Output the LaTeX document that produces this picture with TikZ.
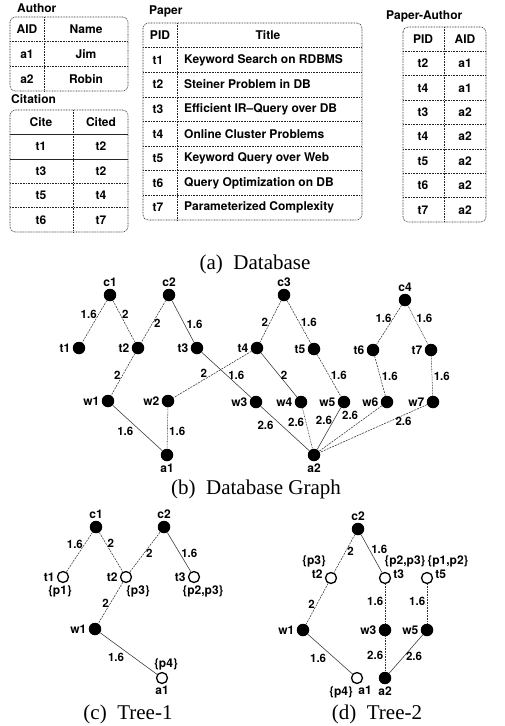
\documentclass[tikz,border=0pt]{standalone}
\usepackage{fontspec}
\setmainfont{Liberation Serif}
\setsansfont{TeX Gyre Heros}
\usetikzlibrary{positioning}

\tikzset{
  vtx/.style={circle, fill=black, inner sep=0pt, minimum size=12.5pt},
  hol/.style={circle, draw=black, line width=1.3pt, fill=white, inner sep=0pt, minimum size=11pt},
  lab/.style={font=\sffamily\bfseries\fontsize{12}{13}\selectfont, inner sep=1pt},
  wt/.style={font=\sffamily\bfseries\fontsize{11.5}{13}\selectfont, inner sep=1.5pt},
  sl/.style={draw=black!80, line width=0.55pt},
  ds/.style={sl, dash pattern=on 2pt off 1pt},
  dt/.style={sl, dash pattern=on 0.8pt off 0.8pt},
  tab/.style={draw=black!85, line width=0.6pt, dash pattern=on 0.8pt off 0.8pt},
  tsol/.style={draw=black!85, line width=0.6pt},
  ttl/.style={font=\sffamily\bfseries\fontsize{12}{14}\selectfont, inner sep=1pt},
  captxt/.style={font=\fontsize{21}{24}\selectfont},
}

\begin{document}
\begin{tikzpicture}[x=1pt, y=-1pt, every label/.style=lab, label distance=1pt]
\useasboundingbox (0,0) rectangle (504,726);

% Author
\node[ttl, anchor=west] (authT) at (16,8) {Author};
\draw[tab, rounded corners=5pt] (10,17) rectangle (128,91);
\draw[tab] (44,17) -- (44,91);
\foreach \y in {41.7,66.3} \draw[tab] (10,\y) -- (128,\y);
\foreach \a/\b/\y in {AID/Name/29, a1/Jim/54, a2/Robin/79}{
    \node[ttl] (au-\y-l) at (27,\y) {\a};
    \node[ttl] (au-\y-r) at (86,\y) {\b};
}

% Citation
\node[ttl, anchor=west] (citT) at (10,99) {Citation};
\draw[tab, rounded corners=5pt] (10,110) rectangle (128,232);
\draw[tab] (73,110) -- (73,232);
\draw[tsol] (10,134.4) -- (128,134.4);
\draw[tsol] (10,158.8) -- (128,158.8);
\foreach \y in {183.2,207.6} \draw[tab] (10,\y) -- (128,\y);
\foreach \a/\b/\y in {Cite/Cited/122, t1/t2/146.6, t3/t2/171, t5/t4/195.4, t6/t7/219.8}{
    \node[ttl] (ci-\y-l) at (41,\y) {\a};
    \node[ttl] (ci-\y-r) at (101,\y) {\b};
}

% Paper
\node[ttl, anchor=west] (papT) at (148,11) {Paper};
\draw[tab, rounded corners=5pt] (143,23) rectangle (362,220);
\draw[tab] (177,23) -- (177,220);
\foreach \k in {1,...,7} \draw[tab] (143,23+24.625*\k) -- (362,23+24.625*\k);
\node[ttl] (pa-h-l) at (160,35.3) {PID};
\node[ttl] (pa-h-r) at (268,35.3) {Title};
\foreach \k/\a/\b in {1/t1/Keyword Search on RDBMS, 2/t2/Steiner Problem in DB,
    3/t3/Efficient IR--Query over DB, 4/t4/Online Cluster Problems,
    5/t5/Keyword Query over Web, 6/t6/Query Optimization on DB,
    7/t7/Parameterized Complexity}{
    \node[ttl] (pa-\k-l) at (158,35.3+24.625*\k) {\a};
    \node[ttl, anchor=west] (pa-\k-r) at (183,35.3+24.625*\k) {\b};
}

% Paper-Author
\node[ttl, anchor=west] (paT) at (385,16) {Paper-Author};
\draw[tab, rounded corners=5pt] (403,27) rectangle (486,222);
\draw[tab] (444,27) -- (444,222);
\foreach \k in {1,...,7} \draw[tab] (403,27+24.375*\k) -- (486,27+24.375*\k);
\foreach \k/\a/\b in {0/PID/AID, 1/t2/a1, 2/t4/a1, 3/t3/a2, 4/t4/a2, 5/t5/a2, 6/t6/a2, 7/t7/a2}{
    \node[ttl] (pp-\k-l) at (423,39.2+24.375*\k) {\a};
    \node[ttl] (pp-\k-r) at (465,39.2+24.375*\k) {\b};
}

\node[captxt] (capA) at (255,264) {(a)\enspace Database};

% Database graph
\foreach \n/\x/\y/\p in {c1/110/295/above, c2/169/295/above, c3/284/295/above, c4/405/300/above,
    t1/79/348/left, t2/138/348/left, t3/197/348/left, t4/257/348/left,
    t5/314/349/left, t6/373/350/left, t7/431/350/left,
    w1/108/401/left, w2/168/401/left, w3/256/402/left, w4/301/402/left,
    w5/344/402/left, w6/387/402/left, w7/433/402/left,
    a1/167/455/below, a2/314/455/below}
    \node[vtx, label=\p:\n] (\n) at (\x,\y) {};

\foreach \a/\b/\w/\q/\s/\e in {c1/t1/1.6/.34/left/ds, c1/t2/2/.33/right/ds,
    c2/t2/2/.55/right/ds, c2/t3/1.6/.58/right/sl, c3/t4/2/.53/left/ds,
    c3/t5/1.6/.5/right/ds, c4/t6/1.6/.33/left/ds, c4/t7/1.6/.33/right/dt,
    t2/w1/2/.53/left/ds, t4/w2/2/.61/above/ds, t3/w3/1.6/.5/right/sl,
    t4/w4/2/.5/right/sl, t5/w5/1.6/.5/right/ds, t6/w6/1.6/.5/right/ds,
    t7/w7/1.6/.5/right/dt, w1/a1/1.6/.45/below left/sl, w2/a1/1.6/.58/right/dt,
    w3/a2/2.6/.3/below left/sl, w4/a2/2.6/.34/left/dt, w5/a2/2.6/.3/left/sl,
    w6/a2/2.6/.35/above left/ds, w7/a2/2.6/.22/below/ds}
    \draw[\e] (\a) -- node[wt, pos=\q, \s] {\w} (\b);

\node[captxt] (capB) at (256,489) {(b)\enspace Database Graph};

% Tree-1
\node[vtx, label=above:c1] (Ac1) at (96,527) {};
\node[vtx, label=above:c2] (Ac2) at (164,527) {};
\node[hol, label=left:t1, label={[xshift=-3pt]below:\{p1\}}] (At1) at (63,577) {};
\node[hol, label=left:t2, label={[xshift=12pt]below:\{p3\}}] (At2) at (126,577) {};
\node[hol, label=left:t3, label={[xshift=9pt]below:\{p2,p3\}}] (At3) at (194,577) {};
\node[vtx, label=left:w1] (Aw1) at (95,629) {};
\node[hol, label=below:a1, label={[xshift=4pt]above:\{p4\}}] (Aa1) at (162,678) {};

\foreach \a/\b/\w/\q/\s/\e in {Ac1/At1/1.6/.3/left/ds, Ac1/At2/2/.28/right/ds,
    Ac2/At2/2/.52/right/ds, Ac2/At3/1.6/.52/right/sl, At2/Aw1/2/.5/left/ds,
    Aw1/Aa1/1.6/.45/below left/sl}
    \draw[\e] (\a) -- node[wt, pos=\q, \s] {\w} (\b);

\node[captxt] (capC) at (128,714) {(c)\enspace Tree-1};

% Tree-2
\node[vtx, label=above:c2] (Bc2) at (358,529) {};
\node[hol, label={[yshift=4pt]left:t2}, label={[xshift=-17pt, yshift=3pt]above:\{p3\}}] (Bt2) at (331,578) {};
\node[hol, label={[yshift=4pt]right:t3}, label={[xshift=20pt, yshift=3pt]above:\{p2,p3\}}] (Bt3) at (385,578) {};
\node[hol, label={[yshift=4pt]right:t5}, label={[xshift=21pt, yshift=3pt]above:\{p1,p2\}}] (Bt5) at (427,578) {};
\node[vtx, label=left:w1] (Bw1) at (303,630) {};
\node[vtx, label=left:w3] (Bw3) at (385,630) {};
\node[vtx, label=left:w5] (Bw5) at (427,630) {};
\node[hol, label={[xshift=8pt]below:a1}, label={[xshift=-16pt]below:\{p4\}}] (Ba1) at (357,678) {};
\node[vtx, label=below:a2] (Ba2) at (385,678) {};

\foreach \a/\b/\w/\q/\s/\e in {Bc2/Bt2/2/.45/right/ds, Bc2/Bt3/1.6/.4/right/sl,
    Bt2/Bw1/2/.52/left/ds, Bt3/Bw3/1.6/.45/left/dt, Bt5/Bw5/1.6/.45/left/dt,
    Bw1/Ba1/1.6/.45/below left/sl, Bw3/Ba2/2.6/.55/left/dt, Bw5/Ba2/2.6/.55/right/sl}
    \draw[\e] (\a) -- node[wt, pos=\q, \s] {\w} (\b);

\node[captxt] (capD) at (377,714) {(d)\enspace Tree-2};
\end{tikzpicture}
\end{document}
